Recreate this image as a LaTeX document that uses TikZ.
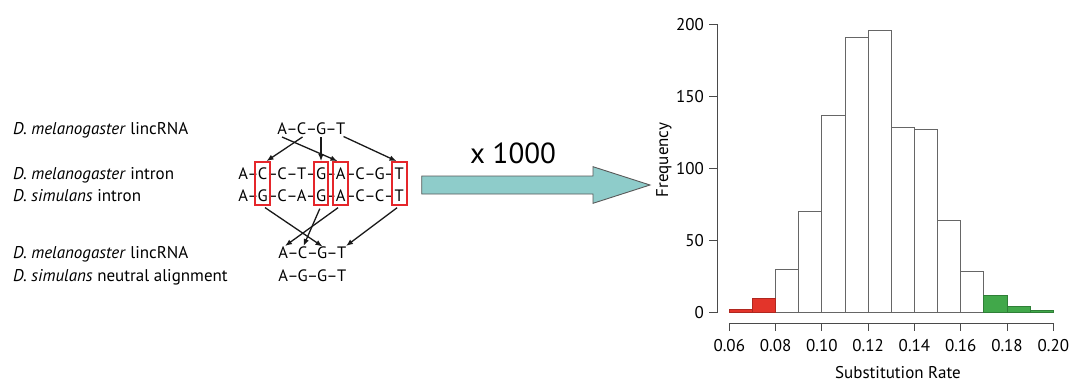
\documentclass[tikz,border=0pt]{standalone}
\usepackage{fontspec}
\setmainfont{PT Sans}
\usetikzlibrary{arrows.meta,calc}
\definecolor{boxred}{HTML}{E5262B}
\definecolor{arrowfill}{HTML}{8ECCCA}
\definecolor{lowfill}{HTML}{E3342A}
\definecolor{lowedge}{HTML}{B0271F}
\definecolor{highfill}{HTML}{41A84A}
\definecolor{highedge}{HTML}{2F7F37}
\definecolor{axisgray}{HTML}{4A4A4A}
\definecolor{bargray}{HTML}{666666}
\newcommand{\fs}{\fontsize{17}{20}\selectfont}
\newcommand{\fsq}{\fontsize{16.5}{20}\selectfont}
% fixed-pitch sequence cells: letters and bonds alternate, 19.5pt per site
\newcommand{\nuc}[1]{\makebox[10pt][c]{#1}}
\newcommand{\bond}{\makebox[9.5pt][c]{–}}
\begin{document}
\begin{tikzpicture}[x=1pt,y=-1pt,
  lab/.style={font=\fs, anchor=base west, inner sep=0pt},
  seq/.style={font=\fsq, anchor=base west, inner sep=0pt},
  sitebox/.style={draw=boxred, line width=1.8pt, minimum width=14.5pt, minimum height=43pt, inner sep=0pt},
  link/.style={draw=black!90, line width=1.3pt, -{Latex[length=7pt,width=5.5pt]}},
  axis/.style={draw=axisgray, line width=1pt},
  bar/.style={draw=bargray, line width=1pt, fill=white},
  lowbar/.style={draw=lowedge, line width=0.8pt, fill=lowfill},
  highbar/.style={draw=highedge, line width=0.8pt, fill=highfill},
  ticklab/.style={font=\fs, inner sep=0pt},
]
\useasboundingbox (0,0) rectangle (1070,381);

% species labels
\node[lab] (lab1) at (13,134) {\textit{D. melanogaster} lincRNA};
\node[lab] (lab2) at (13,179) {\textit{D. melanogaster} intron};
\node[lab] (lab3) at (13,201) {\textit{D. simulans} intron};
\node[lab] (lab4) at (13,258) {\textit{D. melanogaster} lincRNA};
\node[lab] (lab5) at (13,281) {\textit{D. simulans} neutral alignment};

% sequences
\node[seq] (lincTop) at (277,134) {\nuc{A}\bond\nuc{C}\bond\nuc{G}\bond\nuc{T}};
\node[seq] (melIntron) at (238,179) {\nuc{A}\bond\nuc{C}\bond\nuc{C}\bond\nuc{T}\bond\nuc{G}\bond\nuc{A}\bond\nuc{C}\bond\nuc{G}\bond\nuc{T}};
\node[seq] (simIntron) at (238,201) {\nuc{A}\bond\nuc{G}\bond\nuc{C}\bond\nuc{A}\bond\nuc{G}\bond\nuc{A}\bond\nuc{C}\bond\nuc{C}\bond\nuc{T}};
\node[seq] (lincBottom) at (278,258) {\nuc{A}\bond\nuc{C}\bond\nuc{G}\bond\nuc{T}};
\node[seq] (neutral) at (278,281) {\nuc{A}\bond\nuc{G}\bond\nuc{G}\bond\nuc{T}};

% aligned sites picked from the introns
\node[sitebox] (bx2) at (262.5,183.5) {};
\node[sitebox] (bx5) at (321,183.5) {};
\node[sitebox] (bx6) at (340.5,183.5) {};
\node[sitebox] (bx9) at (399.5,183.5) {};

% arrow ends at the lincRNA letters
\coordinate (tA) at (282,137);
\coordinate (tC) at (302.5,137);
\coordinate (tG) at (321,137);
\coordinate (tT) at (343.5,136.5);
\coordinate (bA) at (285,246);
\coordinate (bC) at (303.5,246);
\coordinate (bG) at (322.5,246.5);
\coordinate (bT) at (346,246);

% sampling arrows
\draw[link] (tA) -- ([xshift=-3pt]bx6.north);
\draw[link] (tC) -- ([xshift=4pt]bx2.north);
\draw[link] (tG) -- (bx5.north);
\draw[link] (tT) -- ([xshift=-3pt]bx9.north);
\draw[link, shorten <=3pt] (bx2.south) -- (bG);
\draw[link, shorten <=3pt] (bx5.south) -- (bC);
\draw[link, shorten <=3pt] (bx6.south) -- (bA);
\draw[link, shorten <=3pt] (bx9.south) -- (bT);

% repetition arrow
\draw[draw=black!65, line width=0.9pt, fill=arrowfill, line join=miter]
  (421.7,176) -- (593,176) -- (593,166.7) -- (650,185) -- (593,203.3)
  -- (593,194) -- (421.7,194) -- cycle;
\node[font=\fontsize{29}{32}\selectfont, anchor=base, inner sep=0pt] (reps) at (513,163) {x 1000};

% histogram bars
\foreach \h [count=\k from 2] in {30,70,137,191,196,128,127,64,28}
  \draw[bar] ({729.3+23.143*\k},312.3) rectangle ({729.3+23.143*(\k+1)},{312.3-1.44*\h});
\foreach \h [count=\k from 0] in {2,10}
  \draw[lowbar] ({729.3+23.143*\k},312.3) rectangle ({729.3+23.143*(\k+1)},{312.3-1.44*\h});
\foreach \h [count=\k from 11] in {12,4,1}
  \draw[highbar] ({729.3+23.143*\k},312.3) rectangle ({729.3+23.143*(\k+1)},{312.3-1.44*\h});

% y axis
\draw[axis] (717.7,24) -- (717.7,312.3);
\foreach \v in {0,50,100,150,200} {
  \draw[axis] (709,{312.3-1.44*\v}) -- (717.7,{312.3-1.44*\v});
  \node[ticklab, anchor=base east] (yl\v) at (704,{312.3-1.44*\v+6}) {\v};
}
\node[font=\fs, rotate=90, anchor=base, inner sep=0pt] (ytitle) at (668,160) {Frequency};

% x axis
\draw[axis] (729.3,323.3) -- (1053.3,323.3);
\foreach \t [count=\k from 0] in {0.06,0.08,0.10,0.12,0.14,0.16,0.18,0.20} {
  \draw[axis] ({729.3+46.286*\k},323.3) -- ({729.3+46.286*\k},330.5);
  \node[ticklab, anchor=base] (xl\k) at ({729.3+46.286*\k},351.5) {\t};
}
\node[font=\fs, anchor=base, inner sep=0pt] (xtitle) at (898,378) {Substitution Rate};
\end{tikzpicture}
\end{document}
